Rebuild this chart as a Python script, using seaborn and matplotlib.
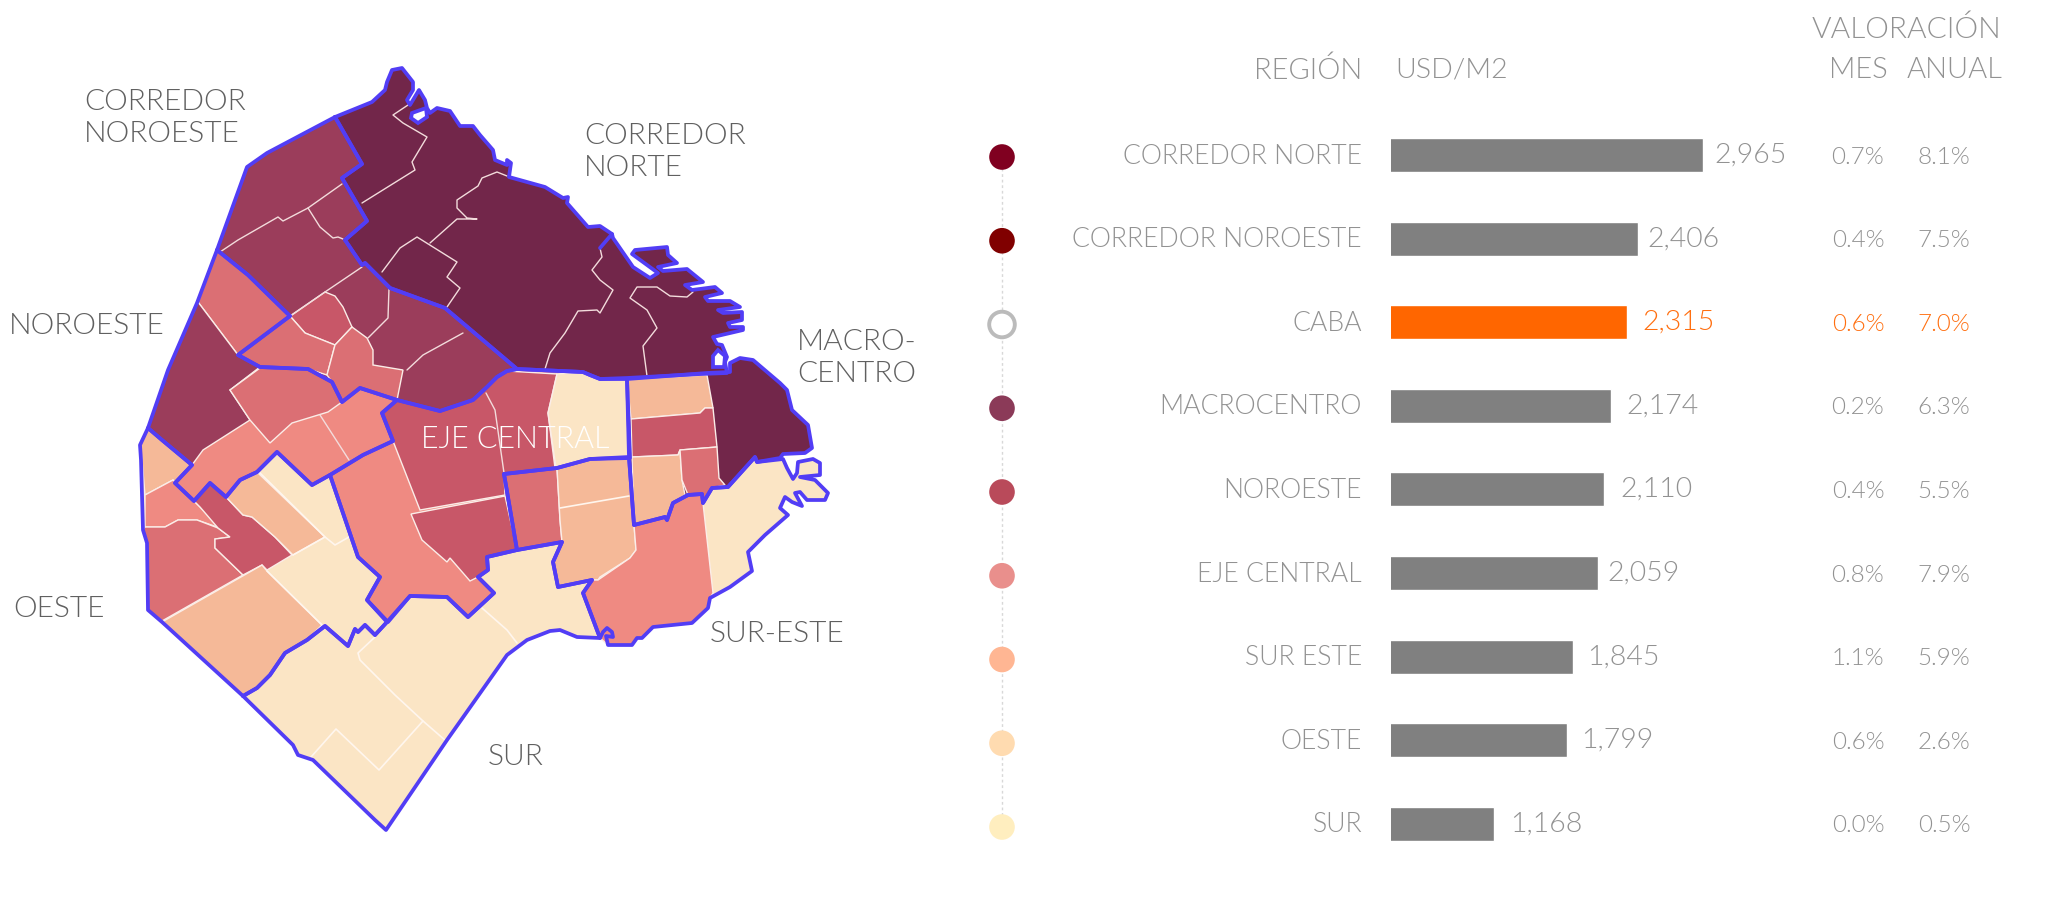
import matplotlib
matplotlib.use("Agg")
import matplotlib.pyplot as plt
import pandas as pd
import seaborn as sns

# tabla de la derecha
regiones = ["CORREDOR NORTE", "CORREDOR NOROESTE", "CABA", "MACROCENTRO", "NOROESTE",
            "EJE CENTRAL", "SUR ESTE", "OESTE", "SUR"]
usd_m2 = [2965, 2406, 2315, 2174, 2110, 2059, 1845, 1799, 1168]
val_mes = ["0.7%", "0.4%", "0.6%", "0.2%", "0.4%", "0.8%", "1.1%", "0.6%", "0.0%"]
val_anual = ["8.1%", "7.5%", "7.0%", "6.3%", "5.5%", "7.9%", "5.9%", "2.6%", "0.5%"]
color_punto = ["#800020", "#800000", "#FFFFFF", "#8B3A58", "#B94A5A", "#E98F8C", "#FFB693", "#FFDBB0", "#FFEEBF"]
gap_valor = [11, 9, 15, 15, 17, 10, 14, 14, 16]

# colores del mapa
OSCURO = "#72264A"
MEDIO = "#9B3D5B"
ROJO = "#C85768"
CORAL = "#DB6F74"
SALMON = "#EF8A82"
DURAZNO = "#F5B998"
CREMA = "#FBE5C5"
AZUL = "#523DF5"

# contornos de regiones (coordenadas)
norte = [(335, 117), (372, 102), (385, 90), (387, 82), (392, 70), (402, 68), (413, 82), (413, 90), (407, 100),
         (410, 105), (419, 90), (425, 100), (427, 108), (430, 113), (437, 108), (450, 111), (460, 126), (473, 126),
         (480, 135), (493, 150), (495, 160), (507, 165), (507, 160), (511, 163), (509, 177), (545, 187), (563, 198),
         (568, 197), (567, 203), (588, 227), (600, 226), (612, 234), (613, 238), (633, 267), (650, 278), (658, 273),
         (632, 254), (635, 250), (667, 247), (668, 255), (677, 263), (658, 267), (663, 271), (687, 269), (703, 282),
         (685, 285), (692, 290), (715, 287), (722, 293), (705, 297), (708, 301), (730, 301), (740, 307), (718, 310),
         (723, 313), (742, 312), (742, 320), (728, 323), (730, 327), (743, 327), (743, 330), (713, 337), (717, 344),
         (722, 345), (727, 357), (725, 362), (727, 373), (700, 374), (627, 378), (600, 379), (590, 375), (583, 372),
         (517, 369), (445, 308), (390, 288), (365, 263), (362, 265), (345, 240), (367, 221), (342, 178), (362, 164)]
noroeste_corr = [(335, 117), (267, 153), (247, 167), (217, 250), (248, 275), (290, 316), (238, 355), (260, 367),
                 (308, 369), (332, 382), (342, 402), (360, 388), (397, 400), (440, 411), (473, 400), (487, 387),
                 (497, 377), (507, 371), (517, 369), (445, 308), (390, 288), (365, 263), (362, 265), (345, 240),
                 (367, 221), (342, 178), (362, 164)]
noroeste = [(217, 250), (197, 303), (168, 370), (148, 428), (162, 440), (192, 465), (175, 483), (194, 501), (210, 483),
            (226, 497), (240, 480), (257, 472), (277, 452), (312, 485), (330, 475), (363, 455), (393, 441), (382, 413),
            (397, 400), (360, 388), (342, 402), (332, 382), (308, 369), (260, 367), (238, 355), (290, 316), (248, 275)]
eje = [(397, 400), (440, 411), (473, 400), (487, 387), (497, 377), (507, 371), (517, 369), (583, 372), (590, 375),
       (600, 379), (627, 379), (630, 458), (590, 459), (557, 468), (504, 474), (517, 550), (487, 557), (488, 570),
       (478, 577), (494, 593), (468, 617), (447, 597), (410, 596), (388, 622), (367, 600), (380, 577), (358, 557),
       (330, 475), (363, 455), (393, 441), (382, 413)]
macro = [(627, 379), (707, 373), (730, 372), (730, 363), (740, 358), (753, 360), (780, 383), (787, 390), (792, 410),
         (808, 425), (812, 448), (805, 453), (783, 454), (780, 458), (757, 462), (755, 457), (728, 487), (712, 488),
         (703, 503), (702, 494), (688, 495), (673, 503), (667, 520), (665, 517), (634, 525), (629, 457)]
sur_este = [(504, 474), (557, 468), (590, 459), (629, 457), (634, 525), (665, 517), (667, 520), (673, 503), (688, 495),
            (702, 494), (703, 503), (712, 488), (728, 487), (755, 457), (757, 462), (783, 459), (787, 468), (793, 479),
            (797, 473), (798, 462), (813, 459), (820, 463), (820, 475), (800, 477), (815, 480), (828, 493), (825, 500),
            (807, 500), (800, 492), (795, 493), (802, 506), (792, 502), (785, 497), (780, 508), (788, 515), (765, 535),
            (748, 552), (752, 571), (730, 587), (710, 598), (708, 608), (692, 623), (653, 627), (642, 638), (637, 638),
            (632, 645), (608, 645), (606, 636), (613, 637), (612, 632), (607, 628), (603, 632), (600, 638), (583, 593),
            (592, 580), (558, 587), (553, 562), (562, 542), (517, 550)]
oeste = [(148, 428), (140, 445), (141, 460), (143, 530), (147, 543), (148, 610), (162, 622), (243, 696), (257, 688),
         (270, 675), (285, 653), (307, 640), (325, 626), (348, 646), (355, 629), (358, 632), (365, 625), (375, 635),
         (387, 622), (367, 600), (380, 577), (358, 557), (330, 475), (312, 485), (277, 452), (257, 472), (240, 480),
         (226, 497), (210, 483), (194, 501), (175, 483), (192, 465), (162, 440)]
sur = [(243, 696), (257, 688), (270, 675), (285, 653), (307, 640), (325, 626), (348, 646), (355, 629), (358, 632),
       (365, 625), (375, 635), (387, 622), (410, 596), (447, 597), (468, 617), (494, 593), (478, 577), (488, 570),
       (487, 557), (517, 550), (562, 542), (553, 562), (558, 587), (592, 580), (583, 593), (600, 638), (577, 637),
       (560, 630), (550, 631), (527, 640), (507, 655), (447, 740), (386, 830), (375, 820), (313, 760), (298, 755),
       (293, 745)]
isla_norte = [(412, 113), (426, 108), (427, 117), (418, 123), (411, 118)]
isla_puerto = [(713, 356), (718, 350), (725, 356), (724, 367), (713, 367)]

regiones_mapa = [(norte, OSCURO), (noroeste_corr, MEDIO), (noroeste, SALMON), (eje, SALMON), (macro, OSCURO),
                 (sur_este, CREMA), (oeste, CREMA), (sur, CREMA)]

# barrios con color propio
barrios = [
    ([(290, 316), (325, 292), (335, 296), (343, 307), (352, 327), (335, 345), (305, 333)], ROJO),
    ([(290, 316), (305, 333), (335, 345), (327, 375), (308, 369), (260, 367), (238, 355)], CORAL),
    ([(352, 327), (335, 345), (327, 375), (332, 382), (342, 402), (360, 388), (397, 400), (403, 370), (373, 365),
      (373, 350), (367, 338)], CORAL),
    ([(217, 250), (248, 275), (290, 316), (238, 355), (198, 302)], CORAL),
    ([(198, 302), (238, 355), (260, 367), (230, 390), (250, 420), (203, 450), (192, 465), (148, 428), (168, 370)], MEDIO),
    ([(230, 390), (260, 368), (308, 369), (332, 382), (342, 402), (328, 412), (292, 423), (270, 443), (250, 420)], CORAL),
    ([(148, 428), (192, 465), (175, 483), (173, 480), (145, 495), (142, 460), (140, 445)], DURAZNO),
    ([(145, 495), (173, 480), (194, 501), (200, 507), (220, 528), (197, 520), (178, 520), (165, 527), (145, 527)], SALMON),
    ([(145, 527), (165, 527), (178, 520), (197, 520), (218, 528), (230, 537), (215, 539), (215, 548), (243, 575),
      (162, 621), (148, 610), (147, 543), (143, 530)], CORAL),
    ([(194, 501), (210, 483), (226, 497), (243, 515), (252, 517), (275, 537), (292, 555), (267, 570), (262, 565),
      (243, 575), (215, 548), (215, 539), (230, 537), (218, 528), (200, 507)], ROJO),
    ([(226, 497), (240, 480), (257, 472), (325, 537), (293, 555), (275, 537), (252, 517), (243, 515)], DURAZNO),
    ([(162, 622), (262, 565), (267, 571), (322, 625), (307, 640), (285, 653), (270, 675), (257, 688), (243, 696)], DURAZNO),
    ([(382, 413), (397, 400), (440, 411), (473, 400), (497, 377), (507, 371), (557, 374), (548, 413), (555, 468),
      (504, 474), (505, 495), (420, 510), (393, 441)], ROJO),
    ([(411, 514), (505, 496), (517, 550), (487, 557), (488, 570), (478, 577), (470, 581), (450, 558), (447, 562),
      (422, 540)], ROJO),
    ([(557, 374), (583, 372), (590, 375), (600, 379), (627, 379), (630, 458), (590, 459), (556, 468), (548, 413)], CREMA),
    ([(627, 379), (707, 375), (713, 408), (705, 408), (700, 413), (631, 419)], DURAZNO),
    ([(631, 419), (700, 413), (705, 408), (713, 408), (717, 447), (680, 450), (678, 455), (632, 457)], ROJO),
    ([(632, 457), (678, 455), (680, 450), (682, 480), (685, 495), (673, 503), (667, 520), (665, 517), (634, 525)], DURAZNO),
    ([(680, 450), (717, 447), (719, 478), (725, 485), (712, 488), (703, 503), (702, 494), (688, 495), (682, 480)], CORAL),
    ([(504, 474), (557, 468), (560, 520), (562, 542), (517, 550)], CORAL),
    ([(557, 468), (590, 459), (629, 457), (634, 525), (636, 550), (630, 558), (600, 577), (598, 580), (592, 580),
      (558, 587), (553, 562), (562, 542), (560, 520)], DURAZNO),
    ([(634, 525), (665, 517), (667, 520), (673, 503), (688, 495), (702, 494), (703, 503), (713, 593), (710, 598),
      (708, 608), (692, 623), (653, 627), (642, 638), (637, 638), (632, 645), (608, 645), (600, 638), (583, 593),
      (592, 580), (598, 580), (630, 558), (636, 550)], SALMON),
]

# limites internos en blanco
lineas_blancas = [
    [(408, 105), (393, 115), (403, 123), (427, 137), (412, 162), (415, 170), (362, 203)],
    [(507, 176), (497, 172), (482, 178), (478, 186), (457, 200), (457, 208), (467, 218), (477, 219), (457, 219), (430, 243)],
    [(382, 272), (400, 248), (417, 237), (457, 262), (447, 277), (460, 288), (447, 307)],
    [(600, 248), (602, 257), (592, 270), (600, 280), (613, 290), (600, 313), (597, 310), (578, 311), (565, 333),
     (550, 353), (545, 369)],
    [(693, 292), (687, 297), (670, 296), (657, 287), (637, 287), (630, 298), (647, 310), (657, 328), (643, 346), (647, 376)],
    [(220, 252), (238, 240), (278, 217), (283, 221), (308, 208), (342, 184)],
    [(308, 208), (320, 227), (333, 238), (338, 237), (343, 239)],
    [(292, 315), (325, 292), (362, 267)],
    [(368, 338), (388, 318), (389, 288)],
    [(463, 333), (423, 355), (407, 370)],
    [(320, 415), (349, 460)],
    [(486, 393), (495, 410), (504, 473)],
]
# sobre la crema la linea es casi blanca
lineas_crema = [
    [(259, 472), (325, 537), (335, 545), (349, 537)],
    [(267, 571), (322, 625)],
    [(293, 555), (325, 537)],
    [(560, 508), (629, 496)],
    [(375, 637), (358, 653), (360, 660), (383, 683), (395, 695), (423, 721), (446, 741)],
    [(423, 721), (379, 770), (336, 729), (311, 757)],
    [(482, 608), (507, 630), (517, 643)],
]
espiga_azul = [(612, 234), (600, 248)]

etiquetas_mapa = [("CORREDOR", 84, 102.5), ("NOROESTE", 84, 134.5), ("NOROESTE", 9, 325.5), ("CORREDOR", 584, 135.5),
                  ("NORTE", 584, 167.5), ("MACRO-", 797, 341.5), ("CENTRO", 797, 373.5), ("OESTE", 13, 609),
                  ("SUR-ESTE", 710, 634), ("SUR", 488, 757)]

sns.set_theme(style="white")
plt.rcParams["font.family"] = ["Lato", "DejaVu Sans"]
plt.rcParams["font.weight"] = 300

fig = plt.figure(figsize=(20.5, 8.98), dpi=100)
W, H = 2050, 898

# lienzo del mapa, en pixeles
ax_map = fig.add_axes([0, 0, 1, 1])
ax_map.set_xlim(0, W)
ax_map.set_ylim(H, 0)
ax_map.axis("off")

for poly, col in regiones_mapa:
    xs, ys = zip(*poly)
    ax_map.fill(xs, ys, color=col, lw=0)
for poly, col in barrios:
    xs, ys = zip(*poly)
    ax_map.fill(xs, ys, facecolor=col, edgecolor="#FBEDE8", lw=1.0)
for lin in lineas_blancas:
    xs, ys = zip(*lin)
    ax_map.plot(xs, ys, color="#F3DCDC", lw=1.0)
for lin in lineas_crema:
    xs, ys = zip(*lin)
    ax_map.plot(xs, ys, color="#FFF6EE", lw=1.2)
for poly, col in regiones_mapa:
    xs, ys = zip(*(poly + poly[:1]))
    ax_map.plot(xs, ys, color=AZUL, lw=2.7, solid_joinstyle="round")
for isla in [isla_norte, isla_puerto]:
    xs, ys = zip(*isla)
    ax_map.fill(xs, ys, facecolor="white", edgecolor=AZUL, lw=2.7)
xs, ys = zip(*espiga_azul)
ax_map.plot(xs, ys, color=AZUL, lw=2.7)

for txt, x, y in etiquetas_mapa:
    ax_map.text(x, y, txt, fontsize=21.5, color="#606060", va="center", ha="left")
ax_map.text(421, 439.5, "EJE CENTRAL", fontsize=22, color="white", va="center", ha="left")

# barras: eje truncado, la base no esta en cero
FILA0, PASO = 155, 83.6
BARRA_X, PX_UNIDAD, BASE = 1391, 0.1163, 282
alto_ax = 9 * PASO
top_ax = FILA0 - PASO / 2
ax_bar = fig.add_axes([BARRA_X / W, 1 - (top_ax + alto_ax) / H, 600 / W, alto_ax / H])
ax_bar.patch.set_alpha(0)
df = pd.DataFrame({"region": regiones, "usd": usd_m2})
colores = ["#FF6600" if r == "CABA" else "#808080" for r in regiones]
sns.barplot(data=df, y="region", x="usd", hue="region", palette=colores, legend=False,
            width=34 / PASO, ax=ax_bar, saturation=1)
ax_bar.set_xlim(BASE, BASE + 600 / PX_UNIDAD)
ax_bar.set_ylim(8.5, -0.5)
ax_bar.axis("off")

gris = "#929292"
naranja = "#FF6F10"
for i, reg in enumerate(regiones):
    c = naranja if reg == "CABA" else gris
    y = FILA0 + i * PASO
    ax_map.text(1362, y + 1, reg, fontsize=19.2, color=gris, ha="right", va="center")
    ax_bar.annotate(f"{usd_m2[i]:,}", (usd_m2[i], i), xytext=(gap_valor[i] * 0.72, 0), textcoords="offset points",
                    fontsize=20.5, color=c, va="center", ha="left")
    ax_map.text(1858, y + 2, val_mes[i], fontsize=17.5, color=c, ha="center", va="center")
    ax_map.text(1944, y + 2, val_anual[i], fontsize=17.5, color=c, ha="center", va="center")

# encabezados
ax_map.text(1362, 70, "REGIÓN", fontsize=21, color=gris, ha="right", va="center")
ax_map.text(1395, 70, "USD/M2", fontsize=20.5, color=gris, ha="left", va="center")
ax_map.text(1906, 29, "VALORACIÓN", fontsize=21.5, color=gris, ha="center", va="center")
ax_map.text(1858, 70, "MES", fontsize=21, color=gris, ha="center", va="center")
ax_map.text(1955, 70, "ANUAL", fontsize=21, color=gris, ha="center", va="center")

# puntos de la leyenda
PUNTO0, PASO_P = 157, 83.75
top_p = PUNTO0 - PASO_P / 2
ax_dot = fig.add_axes([952 / W, 1 - (top_p + 9 * PASO_P) / H, 100 / W, 9 * PASO_P / H])
ax_dot.patch.set_alpha(0)
pos = list(range(len(regiones)))
ax_dot.plot([0] * 9, pos, color="#D8D8D8", lw=1, ls=(0, (2, 2)), zorder=1)
bordes = ["#BBBBBB" if r == "CABA" else c for r, c in zip(regiones, color_punto)]
sns.scatterplot(x=[0] * 9, y=pos, hue=regiones, palette=color_punto, legend=False, s=340,
                edgecolor=bordes, linewidth=[2.8 if r == "CABA" else 0 for r in regiones], ax=ax_dot, zorder=2)
ax_dot.set_xlim(-1, 1)
ax_dot.set_ylim(8.5, -0.5)
ax_dot.axis("off")

fig.savefig("out.png", dpi=100)
